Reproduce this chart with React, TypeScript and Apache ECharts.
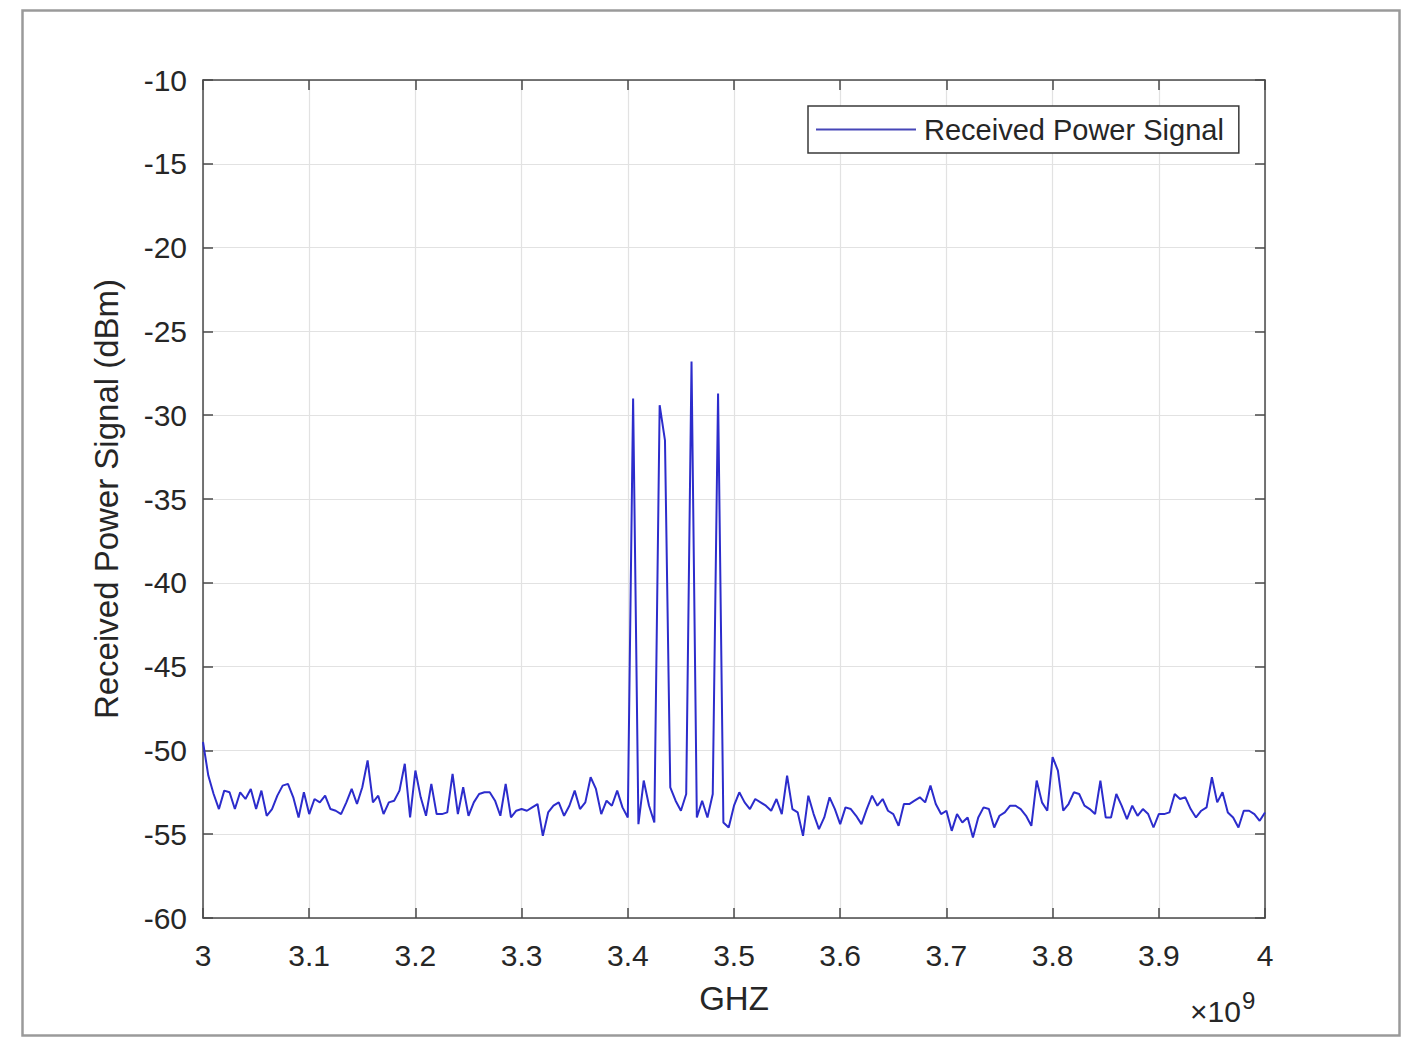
import React, { useEffect, useRef } from "react";
import * as echarts from "echarts";

// Sampling grid (Hz)
const FREQ_START = 3e9;
const FREQ_STEP = 5e6;

// Received power (dBm), one value per sample
const power: number[] = [
  -49.5, -51.5, -52.6, -53.5, -52.4, -52.5, -53.5, -52.5, -52.9, -52.3,
  -53.5, -52.4, -53.9, -53.5, -52.7, -52.1, -52.0, -52.8, -54.0, -52.5,
  -53.8, -52.9, -53.1, -52.7, -53.5, -53.6, -53.8, -53.1, -52.3, -53.2,
  -52.2, -50.6, -53.1, -52.7, -53.8, -53.1, -53.0, -52.4, -50.8, -54.0,
  -51.2, -52.8, -53.9, -52.0, -53.8, -53.8, -53.7, -51.4, -53.8, -52.2,
  -53.9, -53.1, -52.6, -52.5, -52.5, -53.0, -53.9, -52.0, -54.0, -53.6,
  -53.5, -53.6, -53.4, -53.2, -55.1, -53.7, -53.3, -53.1, -53.9, -53.3,
  -52.4, -53.5, -53.1, -51.6, -52.3, -53.8, -53.0, -53.3, -52.4, -53.4,
  -54.0, -29.0, -54.4, -51.8, -53.3, -54.3, -29.4, -31.5, -52.2, -53.0,
  -53.6, -52.6, -26.8, -54.0, -53.0, -54.0, -52.6, -28.7, -54.3, -54.6,
  -53.3, -52.5, -53.1, -53.5, -52.9, -53.1, -53.3, -53.6, -52.9, -53.8,
  -51.5, -53.5, -53.7, -55.1, -52.7, -53.8, -54.7, -54.0, -52.8, -53.5,
  -54.4, -53.4, -53.5, -53.9, -54.4, -53.5, -52.7, -53.3, -52.9, -53.6,
  -53.8, -54.5, -53.2, -53.2, -53.0, -52.8, -53.1, -52.1, -53.2, -53.8,
  -53.6, -54.8, -53.8, -54.3, -54.0, -55.2, -54.0, -53.4, -53.5, -54.6,
  -53.9, -53.7, -53.3, -53.3, -53.5, -53.9, -54.5, -51.8, -53.1, -53.6,
  -50.4, -51.2, -53.6, -53.2, -52.5, -52.6, -53.3, -53.5, -53.8, -51.8,
  -54.0, -54.0, -52.6, -53.3, -54.1, -53.3, -53.9, -53.5, -53.8, -54.6,
  -53.8, -53.8, -53.7, -52.6, -52.9, -52.8, -53.5, -54.0, -53.6, -53.4,
  -51.6, -53.1, -52.5, -53.7, -54.0, -54.6, -53.6, -53.6, -53.8, -54.2,
  -53.7,
];

const xTicks = { min: 3e9, max: 4e9, interval: 1e8 };
const yTicks = { min: -60, max: -10, interval: 5 };

const seriesName = "Received Power Signal";
const xName = "GHZ";
const yName = "Received Power Signal (dBm)";

const FONT = "'Liberation Sans', Arial, Helvetica, sans-serif";
const AXIS_COLOR = "#4a4a4a";
const TEXT_COLOR = "#262626";
const GRID_COLOR = "#e2e2e2";
const LINE_COLOR = "#2c2ccc";

export default function App() {
  const ref = useRef<HTMLDivElement>(null);

  useEffect(() => {
    document.body.style.margin = "0";
    if (!ref.current) return;
    const chart = echarts.init(ref.current, undefined, { renderer: "svg" });

    const data = power.map((v, i) => [FREQ_START + i * FREQ_STEP, v]);

    const boxAxisCommon = {
      axisLine: { show: true, lineStyle: { color: AXIS_COLOR, width: 1.5 } },
      axisTick: { show: true, inside: true, length: 10, lineStyle: { color: AXIS_COLOR, width: 1.5 } },
      axisLabel: { show: false },
      splitLine: { show: false },
    };

    chart.setOption({
      animation: false,
      backgroundColor: "#ffffff",
      textStyle: { fontFamily: FONT },
      grid: { left: 203, right: 152, top: 80, bottom: 129, containLabel: false },
      legend: {
        left: 808,
        top: 106,
        orient: "horizontal",
        backgroundColor: "#ffffff",
        borderColor: "#3a3a3a",
        borderWidth: 1.5,
        borderRadius: 0,
        padding: [9, 15, 9, 8],
        itemWidth: 100,
        itemHeight: 2,
        textStyle: { fontFamily: FONT, fontSize: 29, color: TEXT_COLOR, padding: [0, 0, 0, 3] },
        data: [{ name: seriesName, icon: "rect", itemStyle: { color: "#4646b8" } }],
      },
      xAxis: [
        {
          type: "value",
          position: "bottom",
          min: xTicks.min,
          max: xTicks.max,
          interval: xTicks.interval,
          name: xName,
          nameLocation: "middle",
          nameGap: 64,
          nameTextStyle: { fontFamily: FONT, fontSize: 33, color: TEXT_COLOR },
          axisLine: { show: true, lineStyle: { color: AXIS_COLOR, width: 1.5 } },
          axisTick: { show: true, inside: true, length: 10, lineStyle: { color: AXIS_COLOR, width: 1.5 } },
          axisLabel: {
            show: true,
            margin: 22,
            fontFamily: FONT,
            fontSize: 30,
            color: TEXT_COLOR,
            formatter: (v: number) => String(Number((v / 1e9).toFixed(1))),
          },
          splitLine: { show: true, lineStyle: { color: GRID_COLOR, width: 1.2 } },
        },
        {
          type: "value",
          position: "top",
          min: xTicks.min,
          max: xTicks.max,
          interval: xTicks.interval,
          ...boxAxisCommon,
        },
      ],
      yAxis: [
        {
          type: "value",
          position: "left",
          min: yTicks.min,
          max: yTicks.max,
          interval: yTicks.interval,
          name: yName,
          nameLocation: "middle",
          nameGap: 80,
          nameTextStyle: { fontFamily: FONT, fontSize: 33, color: TEXT_COLOR },
          axisLine: { show: true, lineStyle: { color: AXIS_COLOR, width: 1.5 } },
          axisTick: { show: true, inside: true, length: 10, lineStyle: { color: AXIS_COLOR, width: 1.5 } },
          axisLabel: { show: true, margin: 16, fontFamily: FONT, fontSize: 30, color: TEXT_COLOR },
          splitLine: { show: true, lineStyle: { color: GRID_COLOR, width: 1.2 } },
        },
        {
          type: "value",
          position: "right",
          min: yTicks.min,
          max: yTicks.max,
          interval: yTicks.interval,
          ...boxAxisCommon,
        },
      ],
      series: [
        {
          name: seriesName,
          type: "line",
          xAxisIndex: 0,
          yAxisIndex: 0,
          data,
          symbol: "none",
          showSymbol: false,
          lineStyle: { color: LINE_COLOR, width: 2 },
          itemStyle: { color: LINE_COLOR },
          z: 3,
        },
      ],
      graphic: [
        {
          type: "rect",
          left: 20,
          top: 8,
          shape: { width: 1377, height: 1025 },
          style: { fill: "none", stroke: "#9a9a9a", lineWidth: 2.5 },
          silent: true,
          z: -1,
        },
        {
          type: "text",
          left: 1190,
          top: 988,
          style: {
            text: "{a|×10}{b|9}",
            rich: {
              a: { fontFamily: FONT, fontSize: 30, fill: TEXT_COLOR, verticalAlign: "bottom" },
              b: { fontFamily: FONT, fontSize: 24, fill: TEXT_COLOR, verticalAlign: "top", padding: [0, 0, 14, 1] },
            },
          },
        },
      ],
    });

    return () => chart.dispose();
  }, []);

  return (
    <div
      ref={ref}
      style={{ position: "absolute", left: 0, top: 0, width: 1417, height: 1047 }}
    />
  );
}
